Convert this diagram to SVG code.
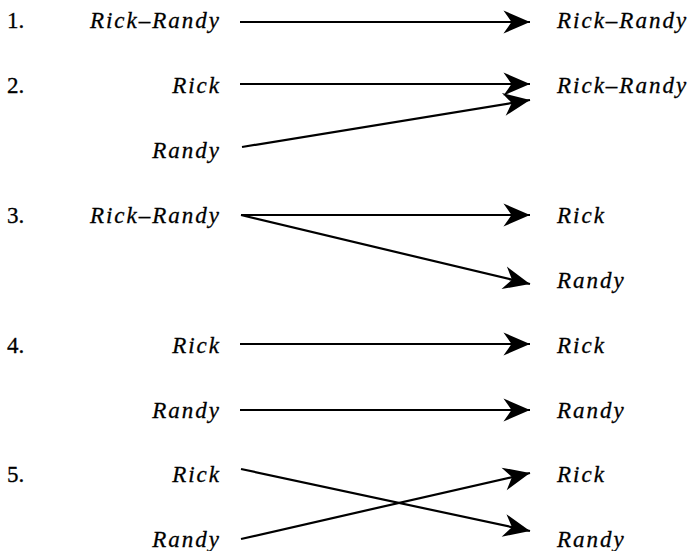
<svg xmlns="http://www.w3.org/2000/svg" width="688" height="551" viewBox="0 0 688 551">
<defs>
<style>
.t{font-style:italic;letter-spacing:2px;fill:#000;stroke:#000;stroke-width:0.3}
.l{text-anchor:end}
.n{fill:#000;stroke:#000;stroke-width:0.3}
.c{stroke:#000;stroke-width:2.2;fill:none;marker-end:url(#ah)}
</style>
<marker id="ah" markerUnits="userSpaceOnUse" orient="auto" markerWidth="30" markerHeight="30" viewBox="-24 -12 26 24" refX="0" refY="0">
<path d="M0,0 L-23,-10 L-16,0 L-23,10 Z" fill="#000"/>
</marker>
</defs>
<rect width="688" height="551" fill="#fff"/>
<g font-family="Liberation Serif" font-size="23">
<g id="numbers">
<text class="n" x="7" y="28">1.</text>
<text class="n" x="7" y="93">2.</text>
<text class="n" x="7" y="223">3.</text>
<text class="n" x="7" y="353">4.</text>
<text class="n" x="7" y="482">5.</text>
</g>
<g id="n1-left"><text class="t l" x="221" y="28">Rick–Randy</text></g>
<g id="n1-right"><text class="t" x="557" y="28">Rick–Randy</text></g>
<g id="n2-rick"><text class="t l" x="221" y="93">Rick</text></g>
<g id="n2-randy"><text class="t l" x="221" y="158">Randy</text></g>
<g id="n2-right"><text class="t" x="557" y="93">Rick–Randy</text></g>
<g id="n3-left"><text class="t l" x="221" y="223">Rick–Randy</text></g>
<g id="n3-rick"><text class="t" x="557" y="223">Rick</text></g>
<g id="n3-randy"><text class="t" x="557" y="288">Randy</text></g>
<g id="n4-rick-l"><text class="t l" x="221" y="353">Rick</text></g>
<g id="n4-randy-l"><text class="t l" x="221" y="418">Randy</text></g>
<g id="n4-rick-r"><text class="t" x="557" y="353">Rick</text></g>
<g id="n4-randy-r"><text class="t" x="557" y="418">Randy</text></g>
<g id="n5-rick-l"><text class="t l" x="221" y="482">Rick</text></g>
<g id="n5-randy-l"><text class="t l" x="221" y="547">Randy</text></g>
<g id="n5-rick-r"><text class="t" x="557" y="482">Rick</text></g>
<g id="n5-randy-r"><text class="t" x="557" y="547">Randy</text></g>
</g>
<g id="connectors">
<line class="c" x1="240" y1="22" x2="530" y2="22"/>
<line class="c" x1="240" y1="84" x2="530" y2="84"/>
<line class="c" x1="242" y1="147" x2="530" y2="100"/>
<line class="c" x1="241" y1="215" x2="530" y2="215"/>
<line class="c" x1="241" y1="215" x2="530" y2="284"/>
<line class="c" x1="240" y1="344" x2="530" y2="344"/>
<line class="c" x1="240" y1="410" x2="530" y2="410"/>
<line class="c" x1="241" y1="469" x2="530" y2="531"/>
<line class="c" x1="241" y1="539" x2="530" y2="473"/>
</g>
</svg>
